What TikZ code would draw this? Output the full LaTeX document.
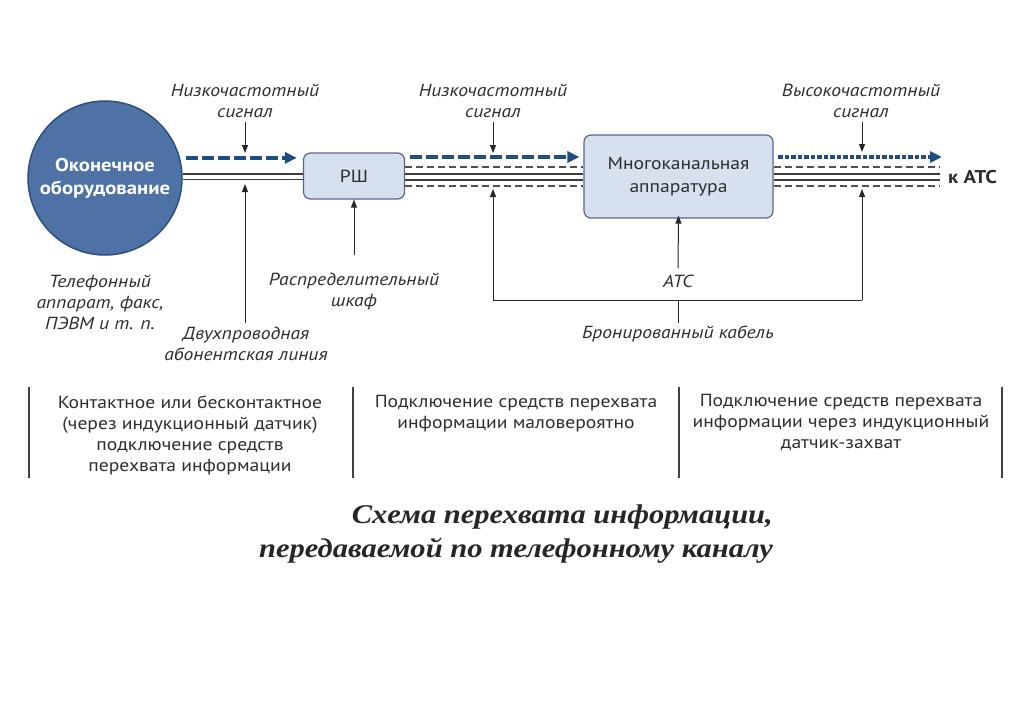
\documentclass[tikz,border=0pt]{standalone}
\usepackage{fontspec}
\setmainfont[FakeStretch=1.12]{PT Sans}
\newfontfamily\titlefont[FakeStretch=1.13]{Liberation Serif}
\usetikzlibrary{arrows.meta}
\definecolor{circfill}{HTML}{4E72A6}
\definecolor{circdraw}{HTML}{2E4E80}
\definecolor{boxfill}{HTML}{D7E0EF}
\definecolor{boxdraw}{HTML}{56688A}
\definecolor{sigblue}{HTML}{1E4D86}
\definecolor{txt}{HTML}{2E2E2E}
\definecolor{wirec}{HTML}{3C3C3C}
\begin{document}
\begin{tikzpicture}[x=1pt,y=-1pt,
  lbl/.style={font=\fontsize{17.5}{21}\selectfont\itshape, text=txt, align=center, inner sep=0pt},
  coltext/.style={font=\fontsize{17.5}{21}\selectfont, text=txt, align=center, inner sep=0pt},
  boxnode/.style={draw=boxdraw, fill=boxfill, rounded corners=7pt, line width=1.2pt, text=txt, align=center, font=\fontsize{17.5}{23}\selectfont},
  sigarrow/.style={draw=sigblue, line width=3.5pt, dash pattern=on 12pt off 4pt, -{Triangle[length=12pt,width=11pt,fill=sigblue]}},
  sigdots/.style={draw=sigblue, line width=3.5pt, dash pattern=on 5pt off 2pt on 4pt off 2pt, -{Triangle[length=12pt,width=11pt,fill=sigblue]}},
  wireline/.style={draw=wirec, line width=1.3pt},
  dashwire/.style={draw=wirec!90, line width=1.3pt, dash pattern=on 7pt off 4pt},
  ptr/.style={draw=black!85, line width=1pt, -{Triangle[length=8pt,width=6pt]}},
  plain/.style={draw=black!85, line width=1pt},
  sep/.style={draw=black!75, line width=1.2pt}
]
\useasboundingbox[fill=white] (0,0) rectangle (1024,715);

% levels
\coordinate (yBlue) at (0,157);
\coordinate (yD1) at (0,167);
\coordinate (yS1) at (0,174);
\coordinate (yS2) at (0,180);
\coordinate (yD2) at (0,186);
\coordinate (xEnd) at (940,0);

% main nodes
\node[circle, fill=circfill, draw=circdraw, line width=1.5pt, minimum size=154pt, inner sep=0pt,
      font=\bfseries\fontsize{18.5}{23}\selectfont, text=white, align=center] (eq) at (105,178) {Оконечное\\оборудование};
\node[boxnode, minimum width=101pt, minimum height=46pt] (rsh) at (354,176) {РШ};
\node[boxnode, minimum width=189pt, minimum height=83pt] (mk) at (678.5,176.5) {Многоканальная\\аппаратура};
\node[font=\bfseries\fontsize{18.5}{20}\selectfont, text=txt, anchor=west, inner sep=0pt] (katc) at (948,177) {к АТС};

% segment 1
\draw[wireline] (eq.3) -- (eq.3 -| rsh.west);
\draw[wireline] (eq.-1.5) -- (eq.-1.5 -| rsh.west);
\draw[sigarrow] ([xshift=6pt]eq.15) -- ([xshift=-6pt]eq.15 -| rsh.west);

% segment 2
\draw[sigarrow] ([xshift=5pt]rsh.east |- yBlue) -- ([xshift=-4pt]mk.west |- yBlue);
\draw[dashwire] (rsh.east |- yD1) -- (mk.west |- yD1);
\draw[wireline] (rsh.east |- yS1) -- (mk.west |- yS1);
\draw[wireline] (rsh.east |- yS2) -- (mk.west |- yS2);
\draw[dashwire] (rsh.east |- yD2) -- (mk.west |- yD2);

% segment 3
\draw[sigdots] ([xshift=4pt]mk.east |- yBlue) -- ([xshift=2pt]xEnd |- yBlue);
\draw[dashwire] (mk.east |- yD1) -- (xEnd |- yD1);
\draw[wireline] (mk.east |- yS1) -- (xEnd |- yS1);
\draw[wireline] (mk.east |- yS2) -- (xEnd |- yS2);
\draw[dashwire] (mk.east |- yD2) -- (xEnd |- yD2);

% top labels
\node[lbl] (nl1) at (245,101) {Низкочастотный\\сигнал};
\node[lbl] (nl2) at (493,101) {Низкочастотный\\сигнал};
\node[lbl] (vl) at (861,101) {Высокочастотный\\сигнал};
\coordinate (t1) at (245,153);
\coordinate (t2) at (493,153);
\coordinate (t3) at (862,152);
\draw[ptr] ([yshift=-4pt]nl1.south -| t1) -- (t1);
\draw[ptr] ([yshift=-4pt]nl2.south -| t2) -- (t2);
\draw[ptr] ([yshift=-4pt]vl.south -| t3) -- (t3);

% bottom labels
\node[lbl] (tel) at (100,302) {Телефонный\\аппарат, факс,\\ПЭВМ и т. п.};
\node[lbl] (dvl) at (246,344) {Двухпроводная\\абонентская линия};
\node[lbl] (rsl) at (354,292) {Распределительный\\шкаф};
\node[lbl] (atsl) at (678,281) {АТС};
\node[lbl] (brk) at (678,334) {Бронированный кабель};

\coordinate (u1) at (245,184);
\coordinate (u2) at (493,189);
\coordinate (u3) at (862,189);
\coordinate (cL) at (493,300);
\coordinate (cR) at (862,300);
\coordinate (cM) at (678,300);

\draw[ptr] ([yshift=4pt]dvl.north -| u1) -- (u1);
\draw[ptr] ([yshift=18pt]rsl.north) -- (rsh.south);
\draw[plain] (cL) -- (cR);
\draw[ptr] (cL) -- (u2);
\draw[ptr] (cR) -- (u3);
\draw[ptr] ([yshift=6pt]atsl.north) -- ([yshift=3pt]mk.south);
\draw[plain] (cM) -- ([yshift=3pt]brk.north);

% bottom columns
\draw[sep] (29,387) -- (29,478);
\draw[sep] (353,387) -- (353,478);
\draw[sep] (679,387) -- (679,478);
\draw[sep] (1002,387) -- (1002,478);
\node[coltext, anchor=north] (col1) at (190,396) {Контактное или бесконтактное\\(через индукционный датчик)\\подключение средств\\перехвата информации};
\node[coltext, anchor=north] (col2) at (516,395) {Подключение средств перехвата\\информации маловероятно};
\node[coltext, anchor=north] (col3) at (841,394) {Подключение средств перехвата\\информации через индукционный\\датчик-захват};

% title
\node[font=\titlefont\bfseries\itshape\fontsize{27}{34}\selectfont, text=black!85, align=right, anchor=east, inner sep=0pt] (title) at (773,534) {Схема перехвата информации,\\передаваемой по телефонному каналу};
\end{tikzpicture}
\end{document}
